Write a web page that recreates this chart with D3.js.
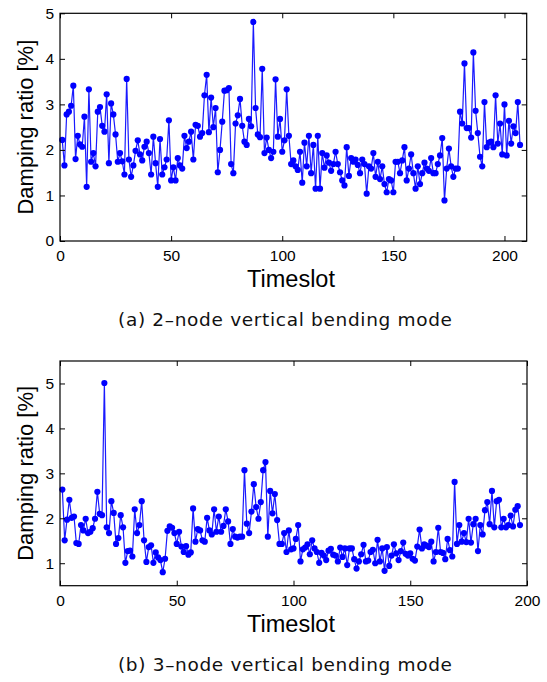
<!DOCTYPE html>
<html>
<head>
<meta charset="utf-8">
<script src="https://cdn.jsdelivr.net/npm/d3@7"></script>
<style>
  body { margin: 0; background: #fff; }
  svg { display: block; }
  .tick text { font-family: "Liberation Sans", Arial, sans-serif; font-size: 15.5px; fill: #000; }
</style>
</head>
<body>
<script>
// damping ratio per timeslot
var modeA = [2.22,1.66,2.78,2.84,2.97,3.41,1.80,2.31,2.12,2.07,2.73,1.19,3.33,1.74,1.93,1.64,2.84,2.94,2.53,2.40,
  3.22,1.71,3.02,2.78,2.34,1.74,1.93,1.75,1.46,3.56,1.79,1.41,1.66,1.98,2.21,1.90,1.77,2.07,2.18,1.93,
  1.46,2.29,1.71,1.19,2.24,1.46,1.62,1.79,2.65,1.33,1.62,1.33,1.82,1.66,1.59,2.31,
  2.04,2.18,2.40,1.79,2.55,2.53,2.29,2.37,3.20,3.65,2.39,3.15,2.50,2.92,1.51,2.00,2.62,3.30,3.31,3.36,
  1.69,1.49,2.58,2.76,3.12,2.53,2.18,2.11,2.68,2.52,4.81,2.92,2.34,2.28,3.78,1.93,2.27,2.00,1.82,1.96,
  3.55,2.29,2.68,1.96,2.21,3.33,2.31,1.69,1.77,1.64,1.56,1.96,1.28,2.16,
  1.64,2.31,1.49,2.11,1.15,2.31,1.15,1.93,1.61,1.88,1.72,1.54,1.69,1.96,1.69,1.51,1.33,1.22,2.06,1.43,
  1.82,1.74,1.79,1.67,1.49,1.79,1.69,1.04,1.64,1.59,1.93,1.41,1.74,1.36,1.64,1.25,1.07,1.36,1.33,1.07,
  1.74,1.74,1.49,1.77,2.06,1.33,1.59,1.90,1.49,1.15,1.64,1.25,1.49,1.72,
  1.59,1.54,1.82,1.49,1.49,1.69,1.88,2.26,0.89,1.59,2.03,1.64,1.41,1.59,1.59,2.84,2.58,3.90,2.48,2.48,
  2.27,4.14,2.86,2.37,1.85,1.64,3.05,2.06,2.16,2.18,2.06,3.20,2.14,2.58,1.90,3.00,1.88,2.64,2.14,2.52,
  2.37,3.05,2.11];

var modeB = [2.64,1.51,1.97,2.41,2.01,2.04,1.45,1.43,1.85,1.73,1.99,1.67,1.70,1.78,1.99,2.59,2.10,2.07,5.01,1.80,
  1.67,2.38,2.12,1.43,1.56,2.07,1.80,1.01,1.27,1.28,1.15,2.20,1.67,1.85,2.38,1.51,1.03,1.36,1.40,1.01,
  1.24,1.13,1.07,0.80,1.10,1.72,1.82,1.79,1.67,1.43,1.70,1.37,1.25,
  1.38,1.19,1.24,2.22,1.48,1.76,1.73,1.51,1.48,2.01,1.73,1.64,2.20,1.70,2.04,1.70,1.83,2.20,1.93,1.43,
  1.76,1.59,1.57,1.59,1.59,3.07,1.88,1.67,2.15,2.76,2.25,1.99,2.36,3.07,3.25,1.59,2.61,2.11,2.54,1.96,
  1.43,1.43,1.67,1.25,1.73,1.31,1.33,1.54,1.85,
  1.04,1.31,1.35,1.42,1.20,1.51,1.33,1.25,1.01,1.23,1.17,1.07,1.28,1.32,1.19,1.17,1.04,1.35,1.14,1.33,
  0.96,1.33,1.33,1.09,0.88,1.04,1.20,1.41,1.04,1.06,1.25,1.30,1.00,1.52,1.04,1.33,0.83,1.36,0.94,1.17,
  1.42,1.22,1.07,1.27,1.46,1.21,1.17,1.22,1.10,1.06,1.37,1.75,1.33,1.42,
  1.39,1.36,1.48,1.04,1.25,1.79,1.25,1.23,1.09,1.54,1.29,1.15,2.81,1.43,1.85,1.48,1.67,1.47,1.99,1.46,
  1.87,1.99,1.27,1.85,1.64,2.18,2.36,1.87,2.61,1.80,2.38,2.41,1.80,1.99,1.80,1.85,2.06,1.82,2.19,2.27,
  1.85];

var xTicks = [0, 50, 100, 150, 200];
var yTicksA = [0, 1, 2, 3, 4, 5];
var yTicksB = [1, 2, 3, 4, 5];
var xLabel = "Timeslot";
var yLabel = "Damping ratio [%]";
var captionA = "(a) 2\u2013node vertical bending mode";
var captionB = "(b) 3\u2013node vertical bending mode";

var W = 547, H = 682;
var svg = d3.select("body").append("svg").attr("width", W).attr("height", H);
svg.append("rect").attr("width", W).attr("height", H).attr("fill", "#fff");

function drawPanel(values, box, xDom, yDom, yTicks, caption) {
  var x = d3.scaleLinear().domain(xDom).range([box.left, box.right]);
  var y = d3.scaleLinear().domain(yDom).range([box.bottom, box.top]);
  var pts = values.map(function(v, i) { return [i + 1, v]; });

  // the data
  var line = d3.line().x(function(d) { return x(d[0]); }).y(function(d) { return y(d[1]); });
  svg.append("path").datum(pts)
    .attr("d", line)
    .attr("fill", "none")
    .attr("stroke", "#1a1aff")
    .attr("stroke-width", 1.2);
  svg.append("g").selectAll("circle")
    .data(pts)
    .enter().append("circle")
    .attr("cx", function(d) { return x(d[0]); })
    .attr("cy", function(d) { return y(d[1]); })
    .attr("r", 3.1)
    .attr("fill", "#0000ff");

  // matlab style box with inward ticks on all sides
  svg.append("g").attr("transform", "translate(0," + box.bottom + ")")
    .call(d3.axisBottom(x).tickValues(xTicks).tickSize(-5).tickPadding(9).tickFormat(d3.format("d")))
    .call(function(g) { g.select(".domain").remove(); });
  svg.append("g").attr("transform", "translate(0," + box.top + ")")
    .call(d3.axisTop(x).tickValues(xTicks).tickSize(-5).tickFormat(""))
    .call(function(g) { g.select(".domain").remove(); });
  svg.append("g").attr("transform", "translate(" + box.left + ",0)")
    .call(d3.axisLeft(y).tickValues(yTicks).tickSize(-5).tickPadding(6).tickFormat(d3.format("d")))
    .call(function(g) { g.select(".domain").remove(); });
  svg.append("g").attr("transform", "translate(" + box.right + ",0)")
    .call(d3.axisRight(y).tickValues(yTicks).tickSize(-5).tickFormat(""))
    .call(function(g) { g.select(".domain").remove(); });
  svg.selectAll(".tick line").attr("stroke", "#000");

  svg.append("rect")
    .attr("x", box.left).attr("y", box.top)
    .attr("width", box.right - box.left).attr("height", box.bottom - box.top)
    .attr("fill", "none").attr("stroke", "#000").attr("stroke-width", 1.2);

  svg.append("text")
    .attr("transform", "translate(25," + ((box.top + box.bottom) / 2) + ") rotate(-90)")
    .attr("text-anchor", "middle")
    .attr("dy", "0.36em")
    .attr("font-family", "Liberation Sans, Arial, sans-serif")
    .attr("font-size", 22)
    .text(yLabel);

  svg.append("text")
    .attr("x", 291).attr("y", box.bottom + 46)
    .attr("text-anchor", "middle")
    .attr("font-family", "Liberation Sans, Arial, sans-serif")
    .attr("font-size", 23.5)
    .text(xLabel);

  svg.append("text")
    .attr("x", 285).attr("y", box.bottom + 85)
    .attr("text-anchor", "middle")
    .attr("font-family", "DejaVu Sans, sans-serif")
    .attr("font-size", 18.5)
    .attr("textLength", 334)
    .attr("lengthAdjust", "spacing")
    .attr("fill", "#111")
    .text(caption);
}

drawPanel(modeA, {left: 60, right: 526.7, top: 13.3, bottom: 241}, [0, 210], [0, 5], yTicksA, captionA);
drawPanel(modeB, {left: 60, right: 527, top: 361, bottom: 585.7}, [0, 200], [0.5, 5.5], yTicksB, captionB);
</script>
</body>
</html>
